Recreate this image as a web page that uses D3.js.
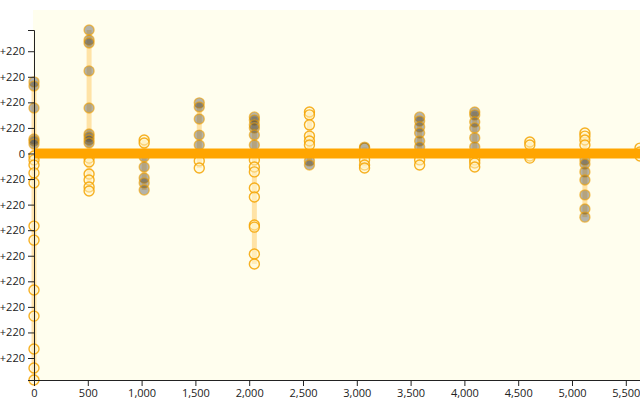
<!DOCTYPE html>
<html><head><meta charset="utf-8">
<script src="https://cdn.jsdelivr.net/npm/d3@7"></script>
<style>body{margin:0;background:#fff}svg{display:block}text{font-family:"Open Sans",sans-serif}</style>
</head><body><svg id="c" width="640" height="400"></svg>
<script>
// cluster x positions
const clusterX = [0, 512, 1024, 1536, 2048, 2560, 3072, 3584, 4096, 4608, 5120, 5632];
// filled (dark) points per cluster
const filledValues = [
  [280, 264, 178, 57, 49, 37],
  [483, 444, 432, 323, 178, 76, 65, 53, 41],
  [-14, -53, -96, -115, -143],
  [198, 182, 135, 72, 33],
  [143, 131, 112, 100, 72, 33],
  [-29, -45],
  [25],
  [143, 127, 104, 80, 49, 25],
  [162, 151, 123, 100, 61, 25],
  [],
  [-25, -41, -72, -104, -162, -217, -249],
  []
];
// hollow points per cluster
const hollowValues = [
  [-10, -25, -45, -76, -115, -284, -339, -534, -636, -765, -839, -886],
  [-18, -33, -80, -104, -131, -147],
  [53, 41],
  [-29, -57],
  [-25, -53, -72, -135, -170, -280, -288, -393, -432],
  [162, 151, 112, 68, 49, 33],
  [21, -25, -45, -57],
  [-25, -45],
  [-25, -37, -53],
  [45, 33, -10, -18],
  [80, 68, 53, 33],
  [21, 6, -10]
];
// baseline series
const lineX = [0, 5632];
const lineY = [0, 0];
// y axis ticks and labels (as shown)
const yTickValues = [-800, -700, -600, -500, -400, -300, -200, -100, 0, 100, 200, 300, 400];
const yTickLabels = ["+220","+220","+220","+220","+220","+220","+220","+220","0","+220","+220","+220","+220"];
const xTickValues = [0, 500, 1000, 1500, 2000, 2500, 3000, 3500, 4000, 4500, 5000, 5500];

const svg = d3.select("#c");
const L = 34, R = 640, T = 30, B = 380;

const allVals = filledValues.flat().concat(hollowValues.flat());
const x = d3.scaleLinear().domain([0, 5632]).range([L, R]);
const y = d3.scaleLinear().domain(d3.extent(allVals)).range([B, T]);

svg.append("rect").attr("x", L - 1).attr("y", 10).attr("width", R - L + 1).attr("height", B - 10).attr("fill", "#fffeee");

// extent lines
const g = svg.append("g");
clusterX.forEach((cx, i) => {
  const vals = filledValues[i].concat(hollowValues[i], [0]);
  const ext = d3.extent(vals);
  g.append("line").attr("x1", x(cx)).attr("x2", x(cx)).attr("y1", y(ext[0])).attr("y2", y(ext[1]))
    .attr("stroke", "orange").attr("stroke-opacity", 0.3).attr("stroke-width", 5);
});

// hollow points
clusterX.forEach((cx, i) => {
  g.selectAll(null).data(hollowValues[i]).join("circle")
    .attr("cx", x(cx)).attr("cy", d => y(d)).attr("r", 5)
    .attr("fill", "#fff6cc").attr("fill-opacity", 0.5)
    .attr("stroke", "#f5a300").attr("stroke-width", 1.4).attr("stroke-opacity", 0.85);
});
// filled points
clusterX.forEach((cx, i) => {
  g.selectAll(null).data(filledValues[i]).join("circle")
    .attr("cx", x(cx)).attr("cy", d => y(d)).attr("r", 5)
    .attr("fill", "#444").attr("fill-opacity", 0.4)
    .attr("stroke", "#f0a000").attr("stroke-width", 1.4).attr("stroke-opacity", 0.6);
});

// baseline
svg.append("path").datum(lineX.map((v, i) => [v, lineY[i]]))
  .attr("d", d3.line().x(d => x(d[0])).y(d => y(d[1])))
  .attr("stroke", "orange").attr("stroke-width", 10).attr("fill", "none");

// axes
const ya = svg.append("g").attr("transform", `translate(${L},0)`)
  .call(d3.axisLeft(y).tickValues(yTickValues).tickFormat((d, i) => yTickLabels[i]));
const xa = svg.append("g").attr("transform", `translate(0,${B})`)
  .call(d3.axisBottom(x).tickValues(xTickValues).tickFormat(d3.format(",")));
[ya, xa].forEach(a => {
  a.selectAll("text").attr("font-size", 11).attr("fill", "#222").attr("font-family", "Open Sans, sans-serif");
  a.selectAll("line,path").attr("stroke", "#222");
});
</script></body></html>
